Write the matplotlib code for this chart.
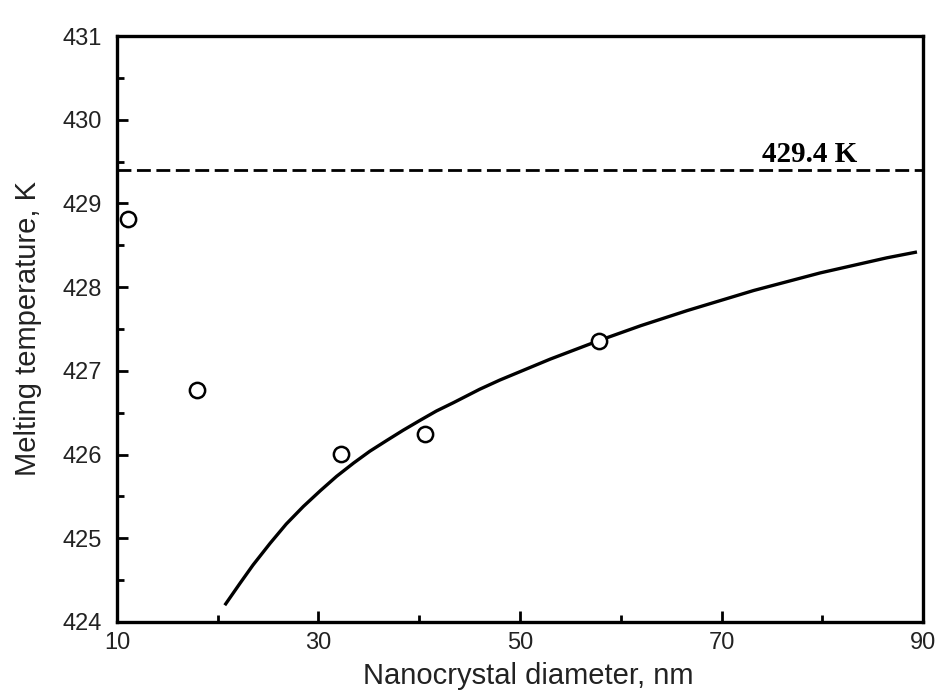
import matplotlib
matplotlib.use("Agg")
import matplotlib.pyplot as plt
import numpy as np

# measured melting points
diam_meas = [11.1, 17.9, 32.2, 40.6, 57.8]
temp_meas = [428.81, 426.77, 426.01, 426.25, 427.36]

# fitted size-dependence curve
diam_fit = [20.7, 22.2, 23.5, 25.2, 26.8, 28.5, 30.2, 31.8, 33.5, 35.1,
            36.8, 38.4, 40.1, 41.7, 43.4, 46.0, 48.0, 53.0, 57.8, 62.0,
            66.6, 73.2, 79.8, 86.4, 89.4]
temp_fit = [424.20, 424.46, 424.68, 424.94, 425.17, 425.38, 425.57, 425.74,
            425.90, 426.04, 426.17, 426.29, 426.41, 426.52, 426.62, 426.78,
            426.89, 427.14, 427.36, 427.54, 427.72, 427.96, 428.17, 428.35,
            428.42]

# bulk melting temperature
t_bulk = 429.4

plt.rcParams['font.family'] = ['Liberation Sans', 'DejaVu Sans']

fig = plt.figure(figsize=(9.41, 6.91), dpi=100)
ax = fig.add_axes([0.1243, 0.0999, 0.8566, 0.8480])

ax.plot([10, 90], [t_bulk, t_bulk], color='black', lw=2.0,
        linestyle=(0, (5.0, 2.0)))
ax.plot(diam_fit, temp_fit, color='black', lw=2.4, solid_capstyle='butt',
        solid_joinstyle='round')
ax.plot(diam_meas, temp_meas, 'o', ms=11, mfc='white', mec='black',
        mew=1.8, zorder=5, clip_on=False)

ax.text(83.45, 429.5, '%.1f K' % t_bulk, ha='right', va='baseline',
        fontsize=21, fontweight='bold', family='Liberation Serif')

ax.set_xlim(10, 90)
ax.set_ylim(424, 431)
ax.set_xticks(np.arange(10, 91, 20))
ax.set_xticks(np.arange(20, 90, 20), minor=True)
ax.set_yticks(np.arange(424, 432, 1))
ax.set_yticks(np.arange(424.5, 431, 1), minor=True)

ax.tick_params(which='both', direction='in', top=False, right=False,
               width=2, colors='black', labelcolor='#222222')
ax.tick_params(which='major', length=8, labelsize=17)
ax.tick_params(which='minor', length=5)
ax.tick_params(axis='y', pad=11)
ax.tick_params(axis='x', pad=7)

for sp in ax.spines.values():
    sp.set_linewidth(2.4)

ax.set_xlabel('Nanocrystal diameter, nm', fontsize=21, color='#222222')
ax.set_ylabel('Melting temperature, K', fontsize=21, color='#222222')
ax.xaxis.set_label_coords(0.51, -0.068)
ax.yaxis.set_label_coords(-0.093, 0.5)

fig.savefig('out.png', dpi=100, facecolor='white')
